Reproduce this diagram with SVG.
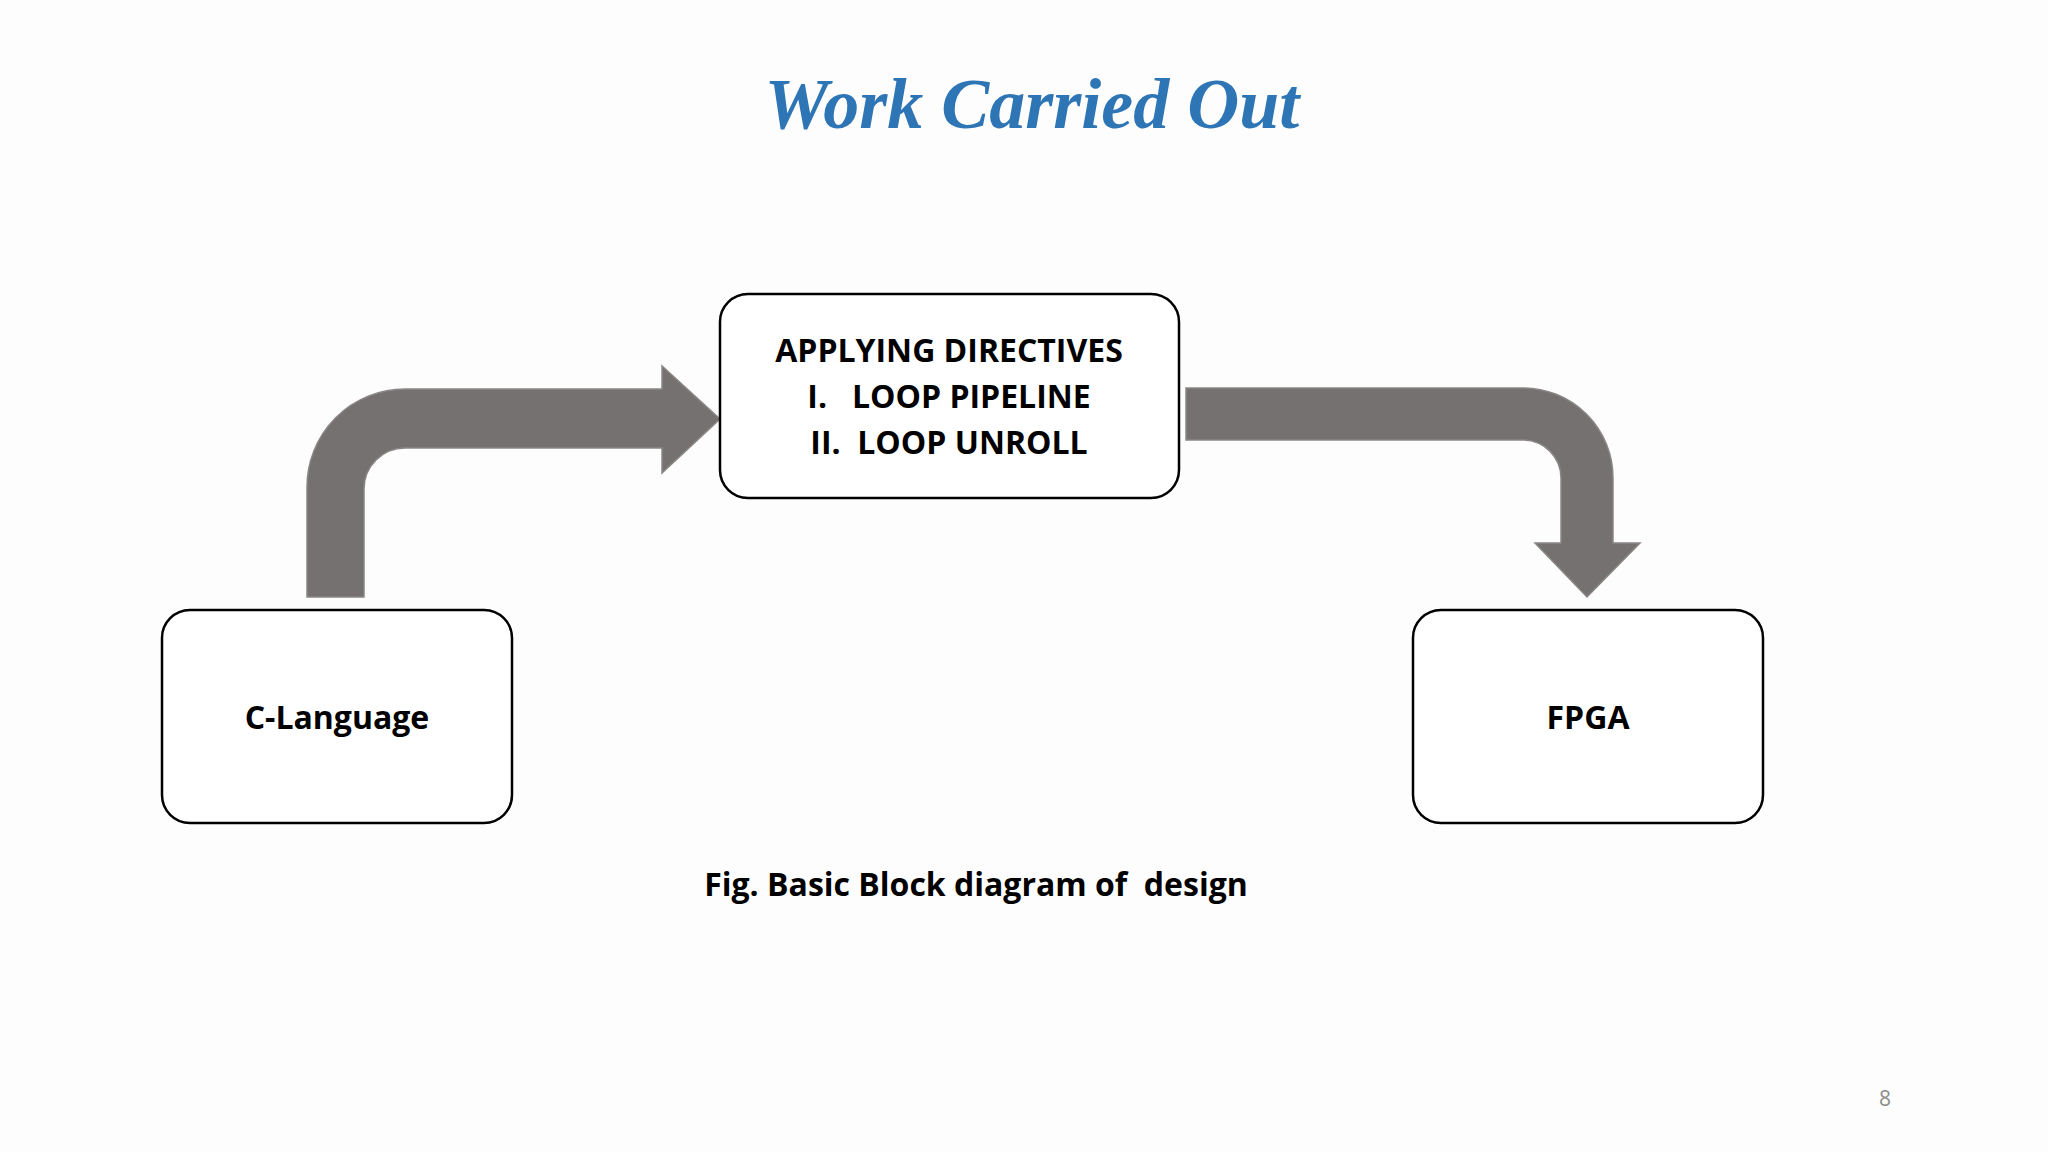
<svg xmlns="http://www.w3.org/2000/svg" width="2048" height="1152" viewBox="0 0 2048 1152">
<style>
.box{fill:#ffffff;stroke:#000;stroke-width:2.5}
.t{font-family:"Open Sans","Noto Sans",sans-serif;font-weight:bold;font-size:32px;fill:#000;text-anchor:middle}
.arr{fill:#767171;stroke:#8a8686;stroke-width:1.5}
</style>
<rect width="2048" height="1152" fill="#fdfdfd"/>
<text x="1032" y="128" font-family="Liberation Serif,serif" font-style="italic" font-weight="bold" font-size="72" fill="#2E75B6" text-anchor="middle">Work Carried Out</text>
<g id="connectors">
<path class="arr" d="M307,597 L307,487 A98,98 0 0 1 405,389 L662,389 L662,366 L720,419 L662,473 L662,448 L405,448 A41,41 0 0 0 364,489 L364,597 Z"/>
<path class="arr" d="M1186,388 L1523,388 A90,90 0 0 1 1613,478 L1613,543 L1640,543 L1587,597 L1535,543 L1561,543 L1561,478 A38,38 0 0 0 1523,440 L1186,440 Z"/>
</g>
<g id="directives">
<rect class="box" x="720" y="294" width="459" height="204" rx="28"/>
<text class="t" x="949" y="362">APPLYING DIRECTIVES</text>
<text class="t" x="949" y="408" xml:space="preserve">I.   LOOP PIPELINE</text>
<text class="t" x="949" y="454" xml:space="preserve">II.  LOOP UNROLL</text>
</g>
<g id="clang">
<rect class="box" x="162" y="610" width="350" height="213" rx="28"/>
<text class="t" x="337" y="729">C-Language</text>
</g>
<g id="fpga">
<rect class="box" x="1413" y="610" width="350" height="213" rx="28"/>
<text class="t" x="1588" y="729">FPGA</text>
</g>
<text class="t" x="976" y="896" xml:space="preserve">Fig. Basic Block diagram of  design</text>
<text x="1885" y="1106" font-family="Open Sans,sans-serif" font-size="21" fill="#8c8c8c" text-anchor="middle">8</text>
</svg>
